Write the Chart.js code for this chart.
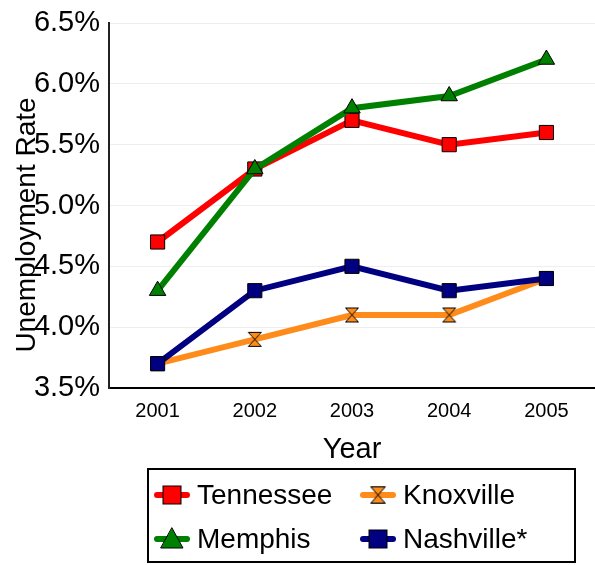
<!DOCTYPE html>
<html>
<head>
<meta charset="utf-8">
<script src="https://cdn.jsdelivr.net/npm/chart.js@4"></script>
<style>
  body { margin: 0; background: #fff; }
  canvas { display: block; }
</style>
</head>
<body>
<canvas id="myChart" width="595" height="565"></canvas>
<script>
// data
const years = [2001, 2002, 2003, 2004, 2005];
const tennessee = [4.7, 5.3, 5.7, 5.5, 5.6];
const memphis = [4.3, 5.3, 5.8, 5.9, 6.2];
const knoxville = [3.7, 3.9, 4.1, 4.1, 4.4];
const nashville = [3.7, 4.3, 4.5, 4.3, 4.4];
const yTicks = [3.5, 4.0, 4.5, 5.0, 5.5, 6.0, 6.5];

const FONT = '"Liberation Sans", Arial, sans-serif';

function pts(vals) {
    return years.map(function(y, i){ return { x: y, y: vals[i] }; });
}

// hourglass marker for Knoxville
function hourglass(fill) {
    const c = document.createElement('canvas');
    c.width = 16; c.height = 17;
    const g = c.getContext('2d');
    g.fillStyle = fill;
    g.strokeStyle = '#000';
    g.lineWidth = 1;
    g.beginPath();
    g.moveTo(1.5, 1.5); g.lineTo(14.5, 1.5); g.lineTo(8, 8.5);
    g.lineTo(14.5, 15.5); g.lineTo(1.5, 15.5); g.lineTo(8, 8.5);
    g.closePath();
    g.fill(); g.stroke();
    return c;
}
const hourglassImg = hourglass('#ff8c1a');

var datasets = [
    { label: 'Tennessee', data: pts(tennessee), borderColor: '#ff0000', backgroundColor: '#ff0000',
      pointStyle: 'rect', pointRadius: 10, order: 1 },
    { label: 'Memphis', data: pts(memphis), borderColor: '#008000', backgroundColor: '#008000',
      pointStyle: 'triangle', pointRadius: 9.5, order: 0 },
    { label: 'Knoxville', data: pts(knoxville), borderColor: '#ff8c1a', backgroundColor: '#ff8c1a',
      pointStyle: hourglassImg, pointRadius: 8, order: 3 },
    { label: 'Nashville*', data: pts(nashville), borderColor: '#000080', backgroundColor: '#000080',
      pointStyle: 'rect', pointRadius: 10, order: 2 }
];
datasets.forEach(function(d){
    d.borderWidth = 6;
    d.pointBorderColor = '#000';
    d.pointBorderWidth = 1;
    d.pointBackgroundColor = d.backgroundColor;
    d.tension = 0;
});

// y title drawn over the tick labels, like the original
const yTitlePlugin = {
    id: 'yTitle',
    afterDraw(chart) {
        const ctx = chart.ctx;
        ctx.save();
        ctx.translate(27, 225);
        ctx.rotate(-Math.PI / 2);
        ctx.font = '28px ' + FONT;
        ctx.fillStyle = '#000';
        ctx.textAlign = 'center';
        ctx.textBaseline = 'middle';
        ctx.fillText('Unemployment Rate', 0, 0);
        ctx.restore();
    }
};

// boxed two-column legend
const boxLegend = {
    id: 'boxLegend',
    afterDraw(chart) {
        const ctx = chart.ctx;
        ctx.save();
        ctx.strokeStyle = '#000';
        ctx.lineWidth = 2;
        ctx.strokeRect(148, 469, 427, 93);
        const spots = [[172, 495], [172, 539], [378, 495], [378, 539]];
        [0, 1, 2, 3].forEach(function(i){
            const ds = chart.data.datasets[i];
            const x = spots[i][0], y = spots[i][1];
            ctx.strokeStyle = ds.borderColor;
            ctx.lineWidth = 6;
            ctx.lineCap = 'round';
            ctx.beginPath(); ctx.moveTo(x - 15, y); ctx.lineTo(x + 15, y); ctx.stroke();
            ctx.fillStyle = ds.backgroundColor;
            ctx.strokeStyle = '#000';
            ctx.lineWidth = 1;
            if (ds.pointStyle === 'rect') {
                ctx.fillRect(x - 9, y - 9, 18, 18);
                ctx.strokeRect(x - 9, y - 9, 18, 18);
            } else if (ds.pointStyle === 'triangle') {
                ctx.beginPath();
                ctx.moveTo(x, y - 11); ctx.lineTo(x + 11, y + 9); ctx.lineTo(x - 11, y + 9);
                ctx.closePath(); ctx.fill(); ctx.stroke();
            } else {
                ctx.drawImage(ds.pointStyle, x - 9, y - 10, 18, 20);
            }
            ctx.fillStyle = '#000';
            ctx.font = '28px ' + FONT;
            ctx.textAlign = 'left';
            ctx.textBaseline = 'middle';
            ctx.fillText(ds.label, x + 25, y + 1);
        });
        ctx.restore();
    }
};

var ctx = document.getElementById('myChart').getContext('2d');
var myChart = new Chart(ctx, {
    type: 'line',
    data: { datasets: datasets },
    options: {
        responsive: false,
        animation: false,
        layout: { autoPadding: false, padding: { top: 23, right: 0, bottom: 97, left: 0 } },
        plugins: { legend: { display: false }, tooltip: { enabled: false } },
        scales: {
            x: {
                type: 'linear',
                min: 2000.5, max: 2005.5,
                afterBuildTicks: function(s){ s.ticks = years.map(function(v){ return { value: v }; }); },
                grid: { display: false, drawTicks: false },
                border: { display: true, color: '#000', width: 2 },
                ticks: { color: '#000', font: { family: FONT, size: 20 }, padding: 11,
                         callback: function(v){ return String(v); } },
                title: { display: true, text: 'Year', color: '#000',
                         font: { family: FONT, size: 29 }, padding: { top: 0, bottom: 1 } },
                afterFit: function(s){ s.height = 80; s.paddingLeft = 0; s.paddingRight = 0; }
            },
            y: {
                min: 3.5, max: 6.5,
                afterBuildTicks: function(s){ s.ticks = yTicks.map(function(v){ return { value: v }; }); },
                grid: { color: '#eeeeee', lineWidth: 1, drawTicks: false },
                border: { display: true, color: '#222', width: 2 },
                ticks: { color: '#000', font: { family: FONT, size: 29 }, padding: 9,
                         callback: function(v){ return v.toFixed(1) + '%'; } },
                afterFit: function(s){ s.width = 109; s.paddingTop = 0; s.paddingBottom = 0; }
            }
        }
    },
    plugins: [yTitlePlugin, boxLegend]
});
</script>
</body>
</html>
